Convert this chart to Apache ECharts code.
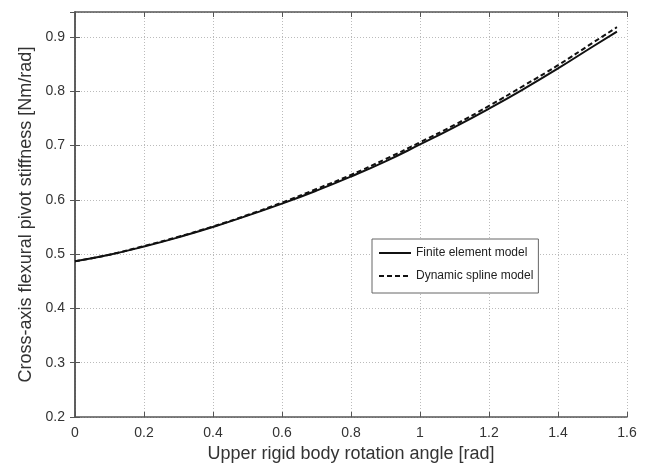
<!DOCTYPE html>
<html>
<head>
<meta charset="utf-8">
<script src="https://cdn.jsdelivr.net/npm/echarts@6/dist/echarts.min.js"></script>
<style>html,body{margin:0;padding:0;background:#fff}#c{width:646px;height:470px}</style>
</head>
<body>
<div id="c"></div>
<script>
const angles = [0,0.1,0.2,0.3,0.4,0.5,0.6,0.7,0.8,0.9,1.0,1.1,1.2,1.3,1.4,1.5,1.5708];
const finiteElement = [0.487,0.499,0.514,0.531,0.550,0.571,0.593,0.617,0.643,0.671,0.702,0.734,0.768,0.804,0.842,0.882,0.910];
const dynamicSpline = [0.487,0.499,0.515,0.532,0.551,0.572,0.595,0.620,0.646,0.675,0.706,0.738,0.773,0.810,0.848,0.889,0.918];
const seriesNames = ['Finite element model','Dynamic spline model'];
const xTitle = 'Upper rigid body rotation angle [rad]';
const yTitle = 'Cross-axis flexural pivot stiffness [Nm/rad]';

const chart = echarts.init(document.getElementById('c'), null, {renderer:'canvas'});
const font = 'Liberation Sans, Arial, sans-serif';
const tickLabel = {color:'#333', fontSize:14, fontFamily:font};
const gridLine = {show:true, lineStyle:{color:'#bbb', type:[1,2], width:1}};
const axisLine = {show:true, lineStyle:{color:'#555', width:1.5}};
const tick = {show:true, inside:true, length:5, lineStyle:{color:'#555'}};
chart.setOption({
  animation:false,
  backgroundColor:'#fff',
  grid:{left:75, right:19, top:12, bottom:53, show:false, containLabel:false, outerBoundsMode:'none'},
  legend:{
    left:372, top:239, orient:'vertical', itemWidth:32, itemHeight:12, itemGap:11,
    padding:[8,5,11,6],
    backgroundColor:'#fff', borderColor:'#666', borderWidth:1,
    itemStyle:{opacity:0},
    textStyle:{fontSize:12, fontFamily:font, color:'#222'},
    data:seriesNames
  },
  xAxis:[{
    type:'value', min:0, max:1.6, interval:0.2, position:'bottom',
    axisLine:axisLine, axisTick:tick, splitLine:gridLine,
    axisLabel:Object.assign({margin:9, formatter:v=>String(+v.toFixed(1))}, tickLabel),
    name:xTitle, nameLocation:'middle', nameGap:27,
    nameTextStyle:{fontSize:18, color:'#333', fontFamily:font}
  },{
    type:'value', min:0, max:1.6, interval:0.2, position:'top',
    axisLine:axisLine, axisTick:tick, splitLine:{show:false}, axisLabel:{show:false}
  }],
  yAxis:[{
    type:'value', min:0.2, max:0.946, interval:0.1, position:'left',
    axisLine:axisLine, axisTick:tick, splitLine:gridLine,
    axisLabel:Object.assign({margin:10, showMaxLabel:false, formatter:v=>String(+v.toFixed(1))}, tickLabel),
    name:yTitle, nameLocation:'middle', nameGap:39,
    nameTextStyle:{fontSize:18, color:'#333', fontFamily:font}
  },{
    type:'value', min:0.2, max:0.946, interval:0.1, position:'right',
    axisLine:axisLine, axisTick:tick, splitLine:{show:false}, axisLabel:{show:false}
  }],
  series:[{
    name:seriesNames[0], type:'line', smooth:true, symbol:'none',
    data:angles.map((a,i)=>[a,finiteElement[i]]),
    lineStyle:{color:'#111', width:2}, itemStyle:{color:'#111'}
  },{
    name:seriesNames[1], type:'line', smooth:true, symbol:'none',
    data:angles.map((a,i)=>[a,dynamicSpline[i]]),
    lineStyle:{color:'#111', width:2, type:[5,3]}, itemStyle:{color:'#111'}
  }]
});
</script>
</body>
</html>
